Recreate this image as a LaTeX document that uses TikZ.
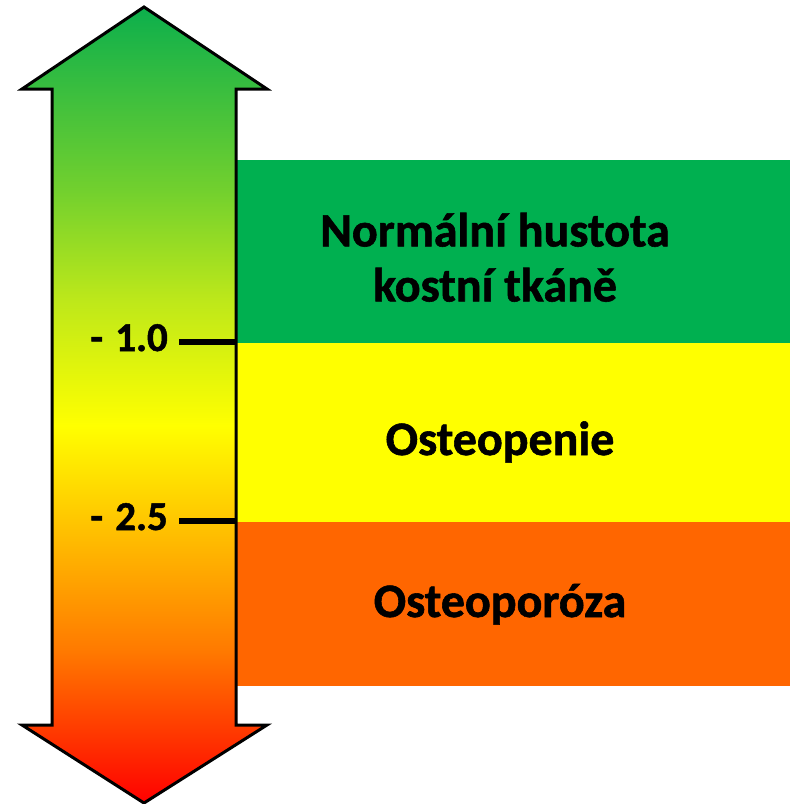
\documentclass[tikz,border=0pt]{standalone}
\usepackage{fontspec}
\setmainfont{Carlito}[BoldFeatures={FakeBold=1.2}]
\definecolor{cG}{HTML}{0CAF4C}
\definecolor{cLG}{HTML}{72D02E}
\definecolor{cYG}{HTML}{BDE81A}
\definecolor{cY}{HTML}{FFFF00}
\definecolor{cA}{HTML}{FFC000}
\definecolor{cO}{HTML}{FF7A00}
\definecolor{cR}{HTML}{FF0000}
\definecolor{bandG}{HTML}{00B050}
\definecolor{bandY}{HTML}{FFFF00}
\definecolor{bandO}{HTML}{FF6600}
\pgfdeclareverticalshading{bmdshade}{100bp}{color(0bp)=(cR); color(25bp)=(cR); color(34.6bp)=(cO); color(42.1bp)=(cA); color(48.7bp)=(cY); color(56.6bp)=(cYG); color(63.5bp)=(cLG); color(75bp)=(cG); color(100bp)=(cG)}
\begin{document}
\begin{tikzpicture}[x=1pt,y=-1pt,
  bandtext/.style={font=\bfseries\fontsize{48}{55}\selectfont,align=center,inner sep=0pt},
  ticklabel/.style={font=\bfseries\fontsize{41}{46}\selectfont,inner sep=0pt,anchor=base east},
  tick/.style={line width=5.5pt}]
\useasboundingbox (0,0) rectangle (790,804);
% bands
\fill[bandG] (237,160) rectangle (790,343);
\fill[bandY] (237,343) rectangle (790,522);
\fill[bandO] (237,522) rectangle (790,686);
% arrow
\path[shading=bmdshade,draw=black,line width=3pt,line join=miter]
  (144,7) -- (267,89) -- (236,89) -- (236,725) -- (267,725) -- (144,803)
  -- (22,725) -- (52,725) -- (52,89) -- (22,89) -- cycle;
% texts
\node[bandtext,anchor=south] (normal) at (495,302) {Normální hustota\\kostní tkáně};
\node[bandtext,anchor=base] (penie) at (500,455) {Osteopenie};
\node[bandtext,anchor=base] (poroza) at (500,617) {Osteoporóza};
% ticks
\coordinate (t1a) at (179,342);
\coordinate (t1b) at (236,342);
\coordinate (t2a) at (179,521);
\coordinate (t2b) at (236,521);
\draw[tick] (t1a) -- (t1b);
\draw[tick] (t2a) -- (t2b);
\node[ticklabel] (l1) at (168,351) {-\hspace{0.3em}1.0};
\node[ticklabel] (l2) at (168,530) {-\hspace{0.3em}2.5};
\end{tikzpicture}
\end{document}
